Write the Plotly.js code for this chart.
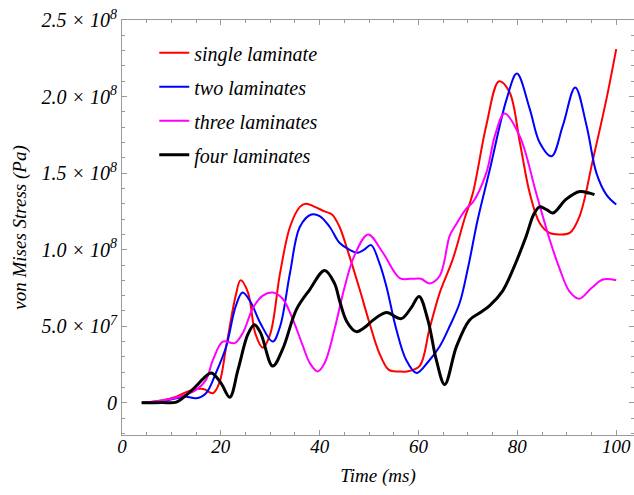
<!DOCTYPE html>
<html>
<head>
<meta charset="utf-8">
<script src="https://cdn.plot.ly/plotly-3.0.1.min.js"></script>
<style>html,body{margin:0;padding:0;background:#fff;}#chart{width:634px;height:495px;}</style>
</head>
<body>
<div id="chart"></div>
<script>
// Time (ms) and von Mises stress (Pa)
var singleT = [4, 8, 11, 13, 15, 16.5, 18.4, 19.7, 21.1, 23, 24, 25.5, 27, 28.5, 30, 32, 34, 36, 37.2, 39, 41, 42.5, 44, 46, 48.1, 50, 52, 54, 56, 57.6, 60.2, 62.2, 64.3, 66.9, 69.3, 71, 73.7, 76.3, 78.4, 80.5, 82.5, 84.5, 86.5, 88.5, 90.6, 92.6, 95.3, 98, 100];
var singleV = [0, 0.15e7, 0.4e7, 0.7e7, 0.9e7, 0.9e7, 0.63e7, 1.3e7, 3.7e7, 7.0e7, 8.0e7, 7.2e7, 4.5e7, 3.6e7, 4.5e7, 8.5e7, 11.5e7, 12.8e7, 13.0e7, 12.8e7, 12.5e7, 12.3e7, 11.5e7, 9.6e7, 7.4e7, 5.3e7, 3.3e7, 2.15e7, 2.05e7, 2.05e7, 2.4e7, 4.8e7, 7.2e7, 9.35e7, 12.0e7, 13.7e7, 18.1e7, 21.0e7, 20.3e7, 17.0e7, 13.7e7, 11.75e7, 11.1e7, 11.0e7, 11.1e7, 12.2e7, 15.9e7, 19.8e7, 23.1e7];

var twoT = [4, 8, 11, 13, 15, 17, 19, 21.1, 23, 24.4, 26, 28, 30.5, 32, 34, 36, 38.3, 40, 42, 44, 46, 47.7, 49, 50.4, 52, 53.5, 55.5, 57.5, 59.6, 62, 64.3, 66.3, 68.3, 70, 72, 74.4, 77.8, 79.9, 82.5, 84.5, 86.9, 89.2, 91.7, 94, 96, 98, 100];
var twoV = [0, 0.1e7, 0.3e7, 0.4e7, 0.3e7, 0.63e7, 1.95e7, 3.7e7, 6.3e7, 7.2e7, 6.6e7, 5.2e7, 4.0e7, 5.0e7, 8.5e7, 11.5e7, 12.3e7, 12.2e7, 11.5e7, 10.45e7, 10.0e7, 9.8e7, 10.0e7, 10.3e7, 9.2e7, 7.6e7, 4.8e7, 2.8e7, 1.95e7, 2.7e7, 3.7e7, 5.0e7, 6.5e7, 8.8e7, 12.0e7, 15.2e7, 19.8e7, 21.5e7, 19.2e7, 17.0e7, 16.1e7, 18.1e7, 20.6e7, 18.1e7, 15.0e7, 13.6e7, 12.95e7];

var threeT = [4, 8, 11.6, 15, 17, 18.4, 20.4, 22.8, 24.5, 26.5, 28.5, 30.5, 32.5, 34.5, 36.5, 38, 39.6, 41, 43, 45, 47, 49.8, 52.8, 56.2, 58.5, 60.5, 62.2, 64.3, 66.3, 67.5, 69.7, 71, 73.7, 75.5, 77.4, 80.5, 83.8, 86.5, 88.5, 90.5, 92.5, 95, 97.3, 100];
var threeV = [0, 0.15e7, 0.4e7, 0.85e7, 1.5e7, 2.8e7, 4.0e7, 3.9e7, 4.6e7, 6.2e7, 7.0e7, 7.2e7, 6.8e7, 5.5e7, 3.8e7, 2.6e7, 2.05e7, 2.6e7, 4.8e7, 7.5e7, 9.6e7, 11.0e7, 9.8e7, 8.15e7, 8.1e7, 8.1e7, 7.8e7, 8.3e7, 10.9e7, 11.6e7, 12.7e7, 13.1e7, 15.0e7, 17.5e7, 18.9e7, 17.4e7, 13.7e7, 10.7e7, 8.8e7, 7.3e7, 6.8e7, 7.5e7, 8.05e7, 8.0e7];

var fourT = [4, 8, 11, 13, 15, 16.5, 18.1, 20, 21.8, 23.5, 25.5, 26.8, 28, 30.5, 32.5, 35.3, 38, 41, 43, 44, 45.5, 47.4, 49, 50.8, 53.5, 56.5, 58.5, 60.1, 61.9, 63.6, 65.3, 67.7, 70.3, 72.5, 74.4, 77, 79.1, 81.8, 83.3, 84.5, 86, 87.2, 89.9, 92.6, 94.5, 95.6];
var fourV = [0, 0.02e7, 0.05e7, 0.5e7, 1.1e7, 1.6e7, 1.95e7, 1.3e7, 0.37e7, 2.2e7, 4.5e7, 5.1e7, 4.6e7, 2.4e7, 3.5e7, 6.1e7, 7.4e7, 8.65e7, 7.8e7, 6.7e7, 5.3e7, 4.65e7, 4.9e7, 5.4e7, 5.9e7, 5.5e7, 6.2e7, 6.95e7, 5.4e7, 2.8e7, 1.2e7, 3.7e7, 5.4e7, 5.9e7, 6.35e7, 7.3e7, 8.7e7, 10.9e7, 12.3e7, 12.8e7, 12.6e7, 12.4e7, 13.3e7, 13.8e7, 13.7e7, 13.6e7];

var seriesNames = ["single laminate", "two laminates", "three laminates", "four laminates"];
var yTickVals = [0, 5e7, 1e8, 1.5e8, 2e8, 2.5e8];
var yTickText = ["0", "5.0 × 10<sup>7</sup>", "1.0 × 10<sup>8</sup>", "1.5 × 10<sup>8</sup>", "2.0 × 10<sup>8</sup>", "2.5 × 10<sup>8</sup>"];
var xTickVals = [0, 20, 40, 60, 80, 100];
var xTickText = ["0", "20", "40", "60", "80", "100"];

var colors = ["#ff0000", "#0000ff", "#ff00ff", "#000000"];
var widths = [2, 2, 2, 3];
var xs = [singleT, twoT, threeT, fourT];
var ys = [singleV, twoV, threeV, fourV];

var serif = "Liberation Serif, Times New Roman, serif";
var traces = [];
for (var i = 0; i < 4; i++) {
  traces.push({
    x: xs[i], y: ys[i], name: seriesNames[i], legendgroup: "g" + i,
    type: "scatter", mode: "lines",
    line: {color: colors[i], width: widths[i], shape: "spline", smoothing: 1}
  });
}

var axisCommon = {
  showgrid: false, zeroline: false, showline: true, linecolor: "#9a9a9a", linewidth: 1,
  mirror: "allticks", ticks: "inside", ticklen: 5, tickwidth: 1, tickcolor: "#9a9a9a"
};

var layout = {
  width: 634, height: 495,
  margin: {l: 122, r: 0, t: 20, b: 60},
  paper_bgcolor: "#fff", plot_bgcolor: "#fff",
  showlegend: true,
  legend: {x: 0.063, y: 0.968, xanchor: "left", yanchor: "top", traceorder: "grouped", tracegroupgap: 5,
           bgcolor: "rgba(0,0,0,0)", font: {family: serif, size: 20, color: "#000", style: "italic"}},
  xaxis: Object.assign({}, axisCommon, {
    range: [0, 103.6], tickmode: "array", tickvals: xTickVals, ticktext: xTickText,
    ticklabelstandoff: -6,
    tickfont: {family: serif, size: 19, color: "#000", style: "italic"},
    minor: {dtick: 5, ticks: "inside", ticklen: 3, tickcolor: "#9a9a9a", showgrid: false},
    title: {text: "Time (ms)", font: {family: serif, size: 19, color: "#000", style: "italic"}, standoff: 12}
  }),
  yaxis: Object.assign({}, axisCommon, {
    range: [-2.1e7, 2.5e8], tickmode: "array", tickvals: yTickVals, ticktext: yTickText,
    tickfont: {family: serif, size: 20, color: "#000", style: "italic"},
    minor: {dtick: 1e7, tick0: 0, ticks: "inside", ticklen: 3, tickcolor: "#9a9a9a", showgrid: false},
    title: {text: "von Mises Stress (Pa)", font: {family: serif, size: 19, color: "#000", style: "italic"}, standoff: 9}
  })
};

Plotly.newPlot("chart", traces, layout, {displayModeBar: false, staticPlot: true});
</script>
</body>
</html>
